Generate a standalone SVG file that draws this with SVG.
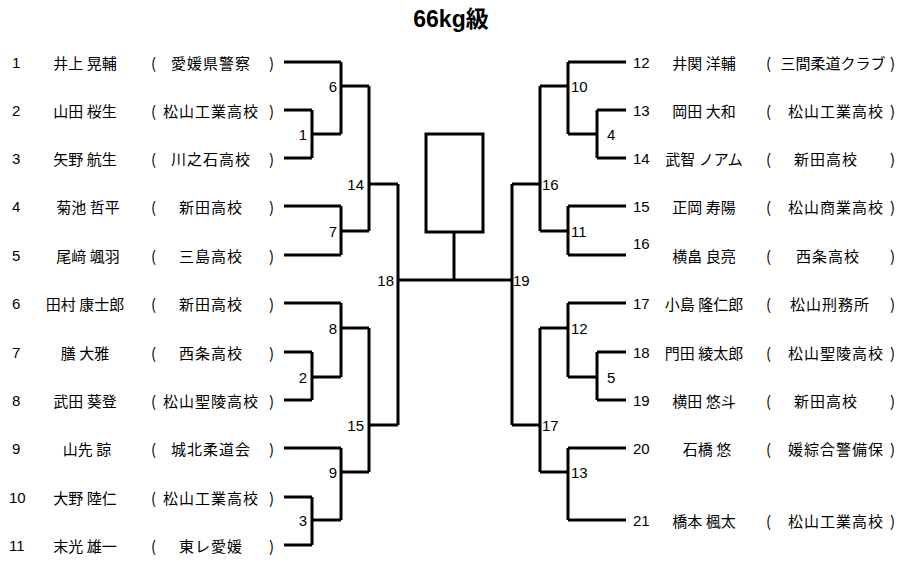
<svg xmlns="http://www.w3.org/2000/svg" width="912" height="562" viewBox="0 0 912 562">
<style>
.t{font-family:"Noto Sans CJK JP","Liberation Sans",sans-serif;font-size:15px;fill:#000;dominant-baseline:central}
.s{letter-spacing:1px}
.n{font-family:"Liberation Sans","Noto Sans CJK JP",sans-serif;font-size:15px;fill:#000;dominant-baseline:central}
.m{text-anchor:middle}
.e{text-anchor:end}
.ln{stroke:#000;stroke-width:3;fill:none}
.title{font-family:"Liberation Sans","Noto Sans CJK JP",sans-serif;font-size:23px;font-weight:bold;text-anchor:middle;fill:#000}
</style>
<rect width="912" height="562" fill="#fff"/>
<text class="title" x="451" y="27">66kg級</text>
<g id="connectors" class="ln">
<path d="M284,62H341M284,110H312M284,158H312M284,206H341M284,255H341M284,303H341M284,352H312M284,400H312M284,448H341M284,497H312M284,545H312"/>
<path d="M312,110V158M312,134H341M341,62V134M341,86H369M341,206V255M341,231H369M369,86V231M369,184H398"/>
<path d="M312,352V400M312,377H341M341,303V377M341,328H369M312,497V545M312,520H341M341,448V520M341,472H369M369,328V472M369,425H398M398,184V425M398,280H512"/>
<path d="M626,62H568M626,110H597M626,158H597M626,206H568M626,255H568M626,303H568M626,352H597M626,400H597M626,448H568M626,520H568"/>
<path d="M597,110V158M597,134H568M568,62V134M568,86H540M568,206V255M568,231H540M540,86V231M540,184H512"/>
<path d="M597,352V400M597,377H568M568,303V377M568,328H540M568,448V520M568,472H540M540,328V472M540,425H512M512,184V425"/>
<rect x="426" y="134" width="57" height="98"/>
<path d="M454,232V280"/>
</g>
<g id="rounds">
<text class="n e" x="337" y="86">6</text>
<text class="n e" x="307" y="134">1</text>
<text class="n e" x="364" y="184">14</text>
<text class="n e" x="337" y="231">7</text>
<text class="n e" x="394" y="280">18</text>
<text class="n e" x="337" y="328">8</text>
<text class="n e" x="307" y="377">2</text>
<text class="n e" x="364" y="425">15</text>
<text class="n e" x="337" y="472">9</text>
<text class="n e" x="307" y="520">3</text>
<text class="n" x="571" y="86">10</text>
<text class="n" x="607" y="134">4</text>
<text class="n" x="542" y="184">16</text>
<text class="n" x="571" y="231">11</text>
<text class="n" x="513" y="280">19</text>
<text class="n" x="571" y="328">12</text>
<text class="n" x="607" y="377">5</text>
<text class="n" x="542" y="425">17</text>
<text class="n" x="571" y="472">13</text>
</g>
<g id="p1"><text class="n" x="12" y="62">1</text><text class="t m" x="85" y="62">井上 晃輔</text><text class="t" x="151" y="62">(</text><text class="t s m" x="211" y="62">愛媛県警察</text><text class="t" x="269" y="62">)</text></g>
<g id="p2"><text class="n" x="12" y="110">2</text><text class="t m" x="85" y="110">山田 桜生</text><text class="t" x="151" y="110">(</text><text class="t s m" x="211" y="110">松山工業高校</text><text class="t" x="269" y="110">)</text></g>
<g id="p3"><text class="n" x="12" y="158">3</text><text class="t m" x="85" y="158">矢野 航生</text><text class="t" x="151" y="158">(</text><text class="t s m" x="211" y="158">川之石高校</text><text class="t" x="269" y="158">)</text></g>
<g id="p4"><text class="n" x="12" y="206">4</text><text class="t m" x="88" y="206">菊池 哲平</text><text class="t" x="151" y="206">(</text><text class="t s m" x="211" y="206">新田高校</text><text class="t" x="269" y="206">)</text></g>
<g id="p5"><text class="n" x="12" y="255">5</text><text class="t m" x="88" y="255">尾﨑 颯羽</text><text class="t" x="151" y="255">(</text><text class="t s m" x="211" y="255">三島高校</text><text class="t" x="269" y="255">)</text></g>
<g id="p6"><text class="n" x="12" y="303">6</text><text class="t m" x="85" y="303">田村 康士郎</text><text class="t" x="151" y="303">(</text><text class="t s m" x="211" y="303">新田高校</text><text class="t" x="269" y="303">)</text></g>
<g id="p7"><text class="n" x="12" y="352">7</text><text class="t m" x="85" y="352">膳 大雅</text><text class="t" x="151" y="352">(</text><text class="t s m" x="211" y="352">西条高校</text><text class="t" x="269" y="352">)</text></g>
<g id="p8"><text class="n" x="12" y="400">8</text><text class="t m" x="85" y="400">武田 葵登</text><text class="t" x="151" y="400">(</text><text class="t s m" x="211" y="400">松山聖陵高校</text><text class="t" x="269" y="400">)</text></g>
<g id="p9"><text class="n" x="12" y="448">9</text><text class="t m" x="87" y="448">山先 諒</text><text class="t" x="151" y="448">(</text><text class="t s m" x="211" y="448">城北柔道会</text><text class="t" x="269" y="448">)</text></g>
<g id="p10"><text class="n" x="9" y="497">10</text><text class="t m" x="85" y="497">大野 陸仁</text><text class="t" x="151" y="497">(</text><text class="t s m" x="211" y="497">松山工業高校</text><text class="t" x="269" y="497">)</text></g>
<g id="p11"><text class="n" x="9" y="545">11</text><text class="t m" x="85" y="545">末光 雄一</text><text class="t" x="151" y="545">(</text><text class="t s m" x="211" y="545">東レ愛媛</text><text class="t" x="269" y="545">)</text></g>
<g id="p12"><text class="n" x="633" y="62">12</text><text class="t m" x="704" y="62">井関 洋輔</text><text class="t" x="766" y="62">(</text><text class="t m" x="833" y="62">三間柔道クラブ</text><text class="t" x="890" y="62">)</text></g>
<g id="p13"><text class="n" x="633" y="110">13</text><text class="t m" x="704" y="110">岡田 大和</text><text class="t" x="766" y="110">(</text><text class="t s m" x="836" y="110">松山工業高校</text><text class="t" x="890" y="110">)</text></g>
<g id="p14"><text class="n" x="633" y="158">14</text><text class="t m" x="704" y="158">武智 ノアム</text><text class="t" x="766" y="158">(</text><text class="t s m" x="826" y="158">新田高校</text><text class="t" x="890" y="158">)</text></g>
<g id="p15"><text class="n" x="633" y="206">15</text><text class="t m" x="704" y="206">正岡 寿陽</text><text class="t" x="766" y="206">(</text><text class="t s m" x="836" y="206">松山商業高校</text><text class="t" x="890" y="206">)</text></g>
<g id="p16"><text class="n" x="633" y="243">16</text><text class="t m" x="704" y="255">横畠 良亮</text><text class="t" x="766" y="255">(</text><text class="t s m" x="828" y="255">西条高校</text><text class="t" x="890" y="255">)</text></g>
<g id="p17"><text class="n" x="633" y="303">17</text><text class="t m" x="704" y="303">小島 隆仁郎</text><text class="t" x="766" y="303">(</text><text class="t s m" x="830" y="303">松山刑務所</text><text class="t" x="890" y="303">)</text></g>
<g id="p18"><text class="n" x="633" y="352">18</text><text class="t m" x="704" y="352">門田 綾太郎</text><text class="t" x="766" y="352">(</text><text class="t s m" x="836" y="352">松山聖陵高校</text><text class="t" x="890" y="352">)</text></g>
<g id="p19"><text class="n" x="633" y="400">19</text><text class="t m" x="704" y="400">横田 悠斗</text><text class="t" x="766" y="400">(</text><text class="t s m" x="826" y="400">新田高校</text><text class="t" x="890" y="400">)</text></g>
<g id="p20"><text class="n" x="633" y="448">20</text><text class="t m" x="707" y="448">石橋 悠</text><text class="t" x="766" y="448">(</text><text class="t s m" x="836" y="448">媛綜合警備保</text><text class="t" x="890" y="448">)</text></g>
<g id="p21"><text class="n" x="633" y="520">21</text><text class="t m" x="704" y="520">橋本 楓太</text><text class="t" x="766" y="520">(</text><text class="t s m" x="836" y="520">松山工業高校</text><text class="t" x="890" y="520">)</text></g>
</svg>
